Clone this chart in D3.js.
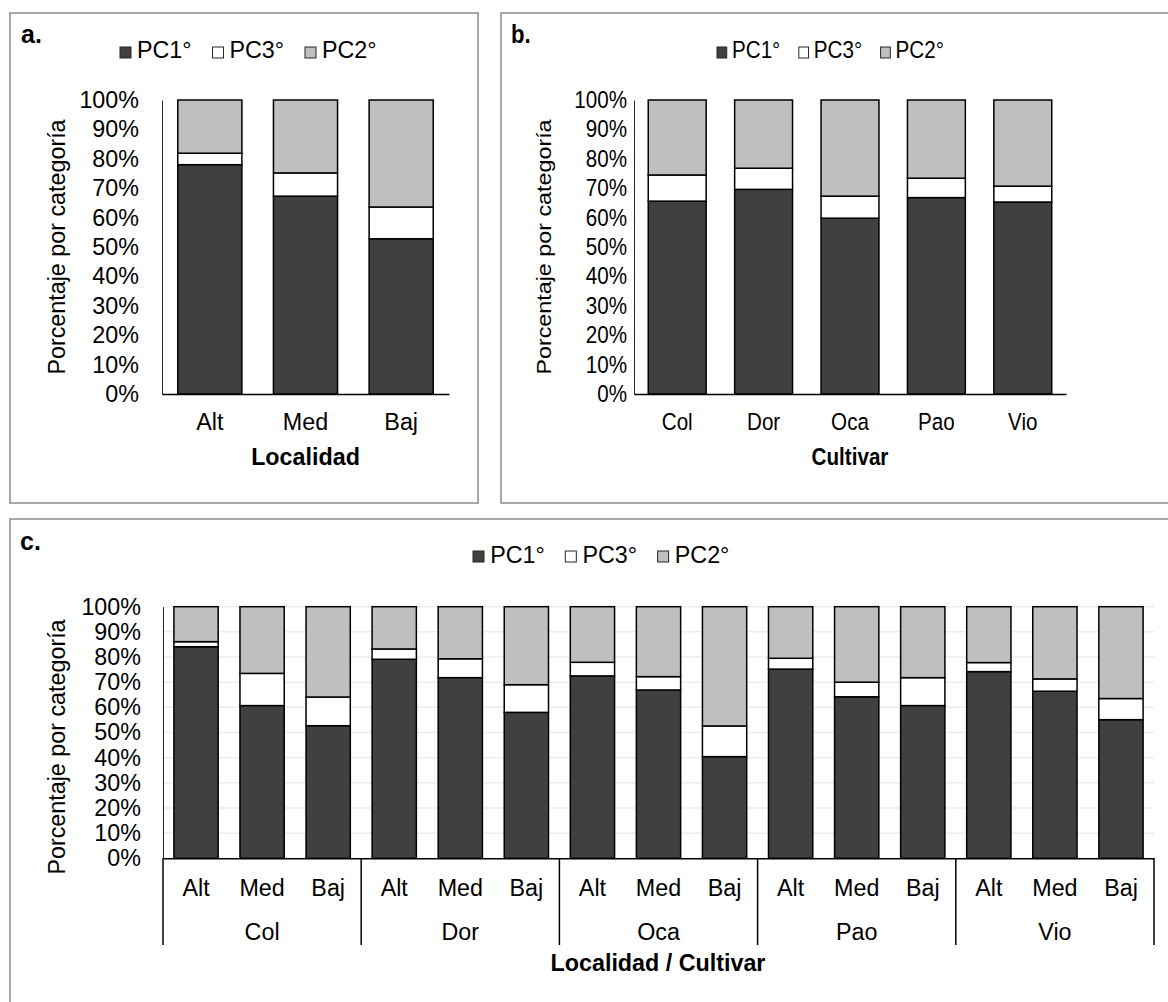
<!DOCTYPE html>
<html><head><meta charset="utf-8">
<script src="https://cdn.jsdelivr.net/npm/d3@7"></script>
<style>
body{margin:0;background:#fff}
svg{display:block}
text{font-family:"Liberation Sans",Arial,Helvetica,sans-serif;fill:#000}
</style>
</head><body>
<svg id="chart" width="1168" height="1002"></svg>
<script>
// ---------- DATA ----------
const seriesKeys = ["PC1°", "PC3°", "PC2°"];
const seriesColors = ["#404040", "#ffffff", "#bfbfbf"];
const yTicks = [0, 10, 20, 30, 40, 50, 60, 70, 80, 90, 100];

// panel a: Localidad
const locCats = ["Alt", "Med", "Baj"];
const locPC1 = [78.0, 67.3, 52.8];
const locPC3 = [3.9, 7.9, 10.8];
const locPC2 = [18.1, 24.8, 36.4];

// panel b: Cultivar
const cultCats = ["Col", "Dor", "Oca", "Pao", "Vio"];
const cultPC1 = [65.6, 69.6, 59.8, 66.8, 65.3];
const cultPC3 = [8.9, 7.2, 7.5, 6.6, 5.4];
const cultPC2 = [25.5, 23.2, 32.7, 26.6, 29.3];

// panel c: Localidad / Cultivar
const comboGroups = ["Col", "Dor", "Oca", "Pao", "Vio"];
const comboSubs = ["Alt", "Med", "Baj"];
const comboPC1 = [84.1, 60.7, 52.7, 79.1, 71.8, 58.0, 72.5, 66.9, 40.4, 75.2, 64.2, 60.7, 74.2, 66.4, 55.1];
const comboPC3 = [2.0, 12.8, 11.4, 4.1, 7.5, 11.0, 5.4, 5.3, 12.2, 4.3, 5.8, 11.1, 3.6, 4.9, 8.4];
const comboPC2 = [13.9, 26.5, 35.9, 16.8, 20.7, 31.0, 22.1, 27.8, 47.4, 20.5, 30.0, 28.2, 22.2, 28.7, 36.5];

// ---------- DRAW ----------
const FONT = 23.3;
const svg = d3.select("#chart");

function addText(parent, x, y, str, o = {}) {
  let tr = `translate(${x},${y})`;
  if (o.k && o.k !== 1) tr += ` scale(${o.k},1)`;
  if (o.rot) tr += ` rotate(${o.rot})`;
  return parent.append("text")
    .attr("transform", tr)
    .attr("text-anchor", o.anchor || "start")
    .attr("font-size", o.size || FONT)
    .attr("font-weight", o.weight || "normal")
    .text(str);
}

function rows(cats, a, b, c) {
  return cats.map((cat, i) => ({cat, [seriesKeys[0]]: a[i], [seriesKeys[1]]: b[i], [seriesKeys[2]]: c[i]}));
}

function panel(o) {
  const k = o.k || 1;
  const g = svg.append("g");
  // frame
  g.append("rect").attr("x", o.frame.x).attr("y", o.frame.y)
    .attr("width", o.frame.w).attr("height", o.frame.h)
    .attr("fill", "none").attr("stroke", "#8c8c8c").attr("stroke-width", 1.5);
  // tag
  addText(g, o.tag.x, o.tag.y, o.tag.text, {weight: "bold", k, size: 25});
  // legend
  const L = o.legend;
  seriesKeys.forEach((key, i) => {
    const lx = L.x + i * L.step;
    g.append("rect").attr("x", lx).attr("y", L.y).attr("width", 11 * k).attr("height", 11)
      .attr("fill", seriesColors[i]).attr("stroke", "#262626").attr("stroke-width", 1);
    addText(g, lx + L.tx, L.base, key, {k});
  });

  const P = o.plot;
  const x = d3.scaleBand().domain(o.cats).range([P.x0, P.x1]).paddingInner(0.33).paddingOuter(0.165);
  const y = d3.scaleLinear().domain([0, 100]).range([P.yb, P.yt]);

  if (P.grid) {
    g.append("g").selectAll("line").data(yTicks.filter(d => d > 0)).join("line")
      .attr("x1", P.x0).attr("x2", P.x1)
      .attr("y1", d => y(d)).attr("y2", d => y(d))
      .attr("stroke", "#ededed").attr("stroke-width", 1.5);
  }

  // y axis
  const gy = g.append("g").attr("transform", `translate(${P.x0},0)`)
    .call(d3.axisLeft(y).tickValues(yTicks).tickSize(0).tickSizeOuter(0).tickFormat(d => d + "%"));
  gy.select(".domain").attr("stroke", "#262626").attr("stroke-width", 1);
  gy.selectAll(".tick text").attr("font-size", FONT)
    .attr("x", -(P.x0 - P.tickRight) / k)
    .attr("transform", `scale(${k},1)`);

  // bars
  const stacked = d3.stack().keys(seriesKeys)(o.data);
  g.append("g").selectAll("g").data(stacked).join("g")
    .attr("fill", (d, i) => seriesColors[i])
    .selectAll("rect").data(d => d).join("rect")
    .attr("x", d => x(d.data.cat)).attr("width", x.bandwidth())
    .attr("y", d => y(d[1])).attr("height", d => y(d[0]) - y(d[1]))
    .attr("stroke", "#000").attr("stroke-width", 1.5);

  // x axis
  const gx = g.append("g").attr("transform", `translate(0,${P.yb})`)
    .call(d3.axisBottom(x).tickSize(0).tickSizeOuter(0).tickPadding(P.xPad)
      .tickFormat(o.catLabel || (d => d)));
  gx.select(".domain").attr("stroke", "#000").attr("stroke-width", 1.5);
  gx.selectAll(".tick text").attr("font-size", FONT).attr("transform", `scale(${k},1)`);

  // y title
  addText(g, o.yTitle.x, o.yTitle.y, "Porcentaje por categoría", {anchor: "middle", rot: -90, k});
  // x title
  addText(g, o.xTitle.x, o.xTitle.y, o.xTitle.text, {anchor: "middle", weight: "bold", k});

  return {g, x, y};
}

// panel a
panel({
  frame: {x: 10, y: 13, w: 468, h: 490},
  tag: {text: "a.", x: 21, y: 43},
  legend: {x: 120, y: 47, step: 92.5, tx: 17, base: 58},
  plot: {x0: 162, x1: 449, yt: 100, yb: 394, tickRight: 139, xPad: 19.5},
  cats: locCats,
  data: rows(locCats, locPC1, locPC3, locPC2),
  yTitle: {x: 65, y: 247},
  xTitle: {text: "Localidad", x: 305.5, y: 465}
});

// panel b
panel({
  k: 0.885,
  frame: {x: 501, y: 13, w: 700, h: 490},
  tag: {text: "b.", x: 511, y: 43},
  legend: {x: 717, y: 47, step: 81.8, tx: 15, base: 58},
  plot: {x0: 634, x1: 1066, yt: 100, yb: 394, tickRight: 627, xPad: 19.5},
  cats: cultCats,
  data: rows(cultCats, cultPC1, cultPC3, cultPC2),
  yTitle: {x: 551, y: 247},
  xTitle: {text: "Cultivar", x: 850, y: 465}
});

// panel c
const comboCats = [];
comboGroups.forEach(gr => comboSubs.forEach(s => comboCats.push(gr + "|" + s)));
const pc = panel({
  frame: {x: 10, y: 519, w: 1162, h: 500},
  tag: {text: "c.", x: 20, y: 550},
  legend: {x: 473, y: 551, step: 92.3, tx: 17.2, base: 563},
  plot: {x0: 163, x1: 1154, yt: 606.7, yb: 858.3, tickRight: 141, xPad: 21.5, grid: true},
  cats: comboCats,
  catLabel: d => d.split("|")[1],
  data: rows(comboCats, comboPC1, comboPC3, comboPC2),
  yTitle: {x: 65, y: 747},
  xTitle: {text: "Localidad / Cultivar", x: 658, y: 971}
});

// group labels + dividers for panel c
const gScale = d3.scaleBand().domain(comboGroups).range([163, 1154]);
const divs = comboGroups.map(d => gScale(d)).concat([1154]);
pc.g.append("g").selectAll("line").data(divs).join("line")
  .attr("x1", d => d).attr("x2", d => d)
  .attr("y1", 858.3).attr("y2", 945)
  .attr("stroke", "#000").attr("stroke-width", 1.5);
pc.g.append("g").selectAll("text").data(comboGroups).join("text")
  .attr("x", d => gScale(d) + gScale.bandwidth() / 2).attr("y", 940)
  .attr("text-anchor", "middle").attr("font-size", FONT).text(d => d);
</script>
</body></html>
